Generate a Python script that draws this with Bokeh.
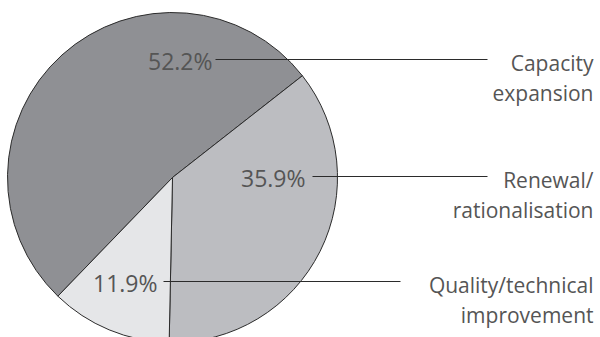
import math
from bokeh.plotting import figure
from bokeh.models import Range1d, ColumnDataSource
from bokeh.core.properties import value
from bokeh.embed import file_html
from bokeh.resources import INLINE

# ---- data ----
categories = ["Capacity expansion", "Renewal/rationalisation", "Quality/technical improvement"]
shares = [52.2, 35.9, 11.9]
pct_labels = ["52.2%", "35.9%", "11.9%"]
label_line1 = ["Capacity", "Renewal/", "Quality/technical"]
label_line2 = ["expansion", "rationalisation", "improvement"]
colors = ["#8f9094", "#bcbdc1", "#e5e6e8"]

# ---- layout (screen pixels, top-left origin) ----
W, H = 600, 337
cx, cy, R = 172, 177, 165
start_deg = 226.0
leader_y = [59, 176, 281]
pct_right_x = [212, 305, 157]
leader_x0 = [215, 312, 163]
leader_x1 = [487, 487, 400]
label_right_x = [593, 593, 593]
FONT = "Open Sans"
TEXT_COLOR = "#555555"

def sy(y):
    return H - y

p = figure(width=W, height=H, output_backend="svg", toolbar_location=None,
           x_range=Range1d(0, W), y_range=Range1d(0, H),
           min_border=0, outline_line_color=None, background_fill_color="white",
           border_fill_color="white")
p.axis.visible = False
p.grid.visible = False

total = sum(shares)
starts, ends = [], []
a = start_deg
for s in shares:
    sweep = 360.0 * s / total
    starts.append(math.radians(a))
    ends.append(math.radians(a - sweep))
    a -= sweep

src = ColumnDataSource(dict(x=[cx] * 3, y=[sy(cy)] * 3, start=starts, end=ends,
                            color=colors, cat=categories))
p.wedge(x="x", y="y", radius=R, start_angle="start", end_angle="end", direction="clock",
        fill_color="color", line_color="#2b2b2b", line_width=1, source=src)

# leader lines
p.segment(x0=leader_x0, y0=[sy(v) for v in leader_y], x1=leader_x1, y1=[sy(v) for v in leader_y],
          line_color="#2b2b2b", line_width=1)

# percentage labels
p.text(x=pct_right_x, y=[sy(v + 1) for v in leader_y], text=pct_labels,
       text_align="right", text_baseline="middle", text_font=value(FONT),
       text_font_size="23px", text_color=TEXT_COLOR)

# category labels
p.text(x=label_right_x, y=[sy(v + 3) for v in leader_y], text=label_line1,
       text_align="right", text_baseline="middle", text_font=value(FONT),
       text_font_size="21px", text_color=TEXT_COLOR)
p.text(x=label_right_x, y=[sy(v + 33) for v in leader_y], text=label_line2,
       text_align="right", text_baseline="middle", text_font=value(FONT),
       text_font_size="21px", text_color=TEXT_COLOR)

open("out.html", "w").write(file_html(p, INLINE))
